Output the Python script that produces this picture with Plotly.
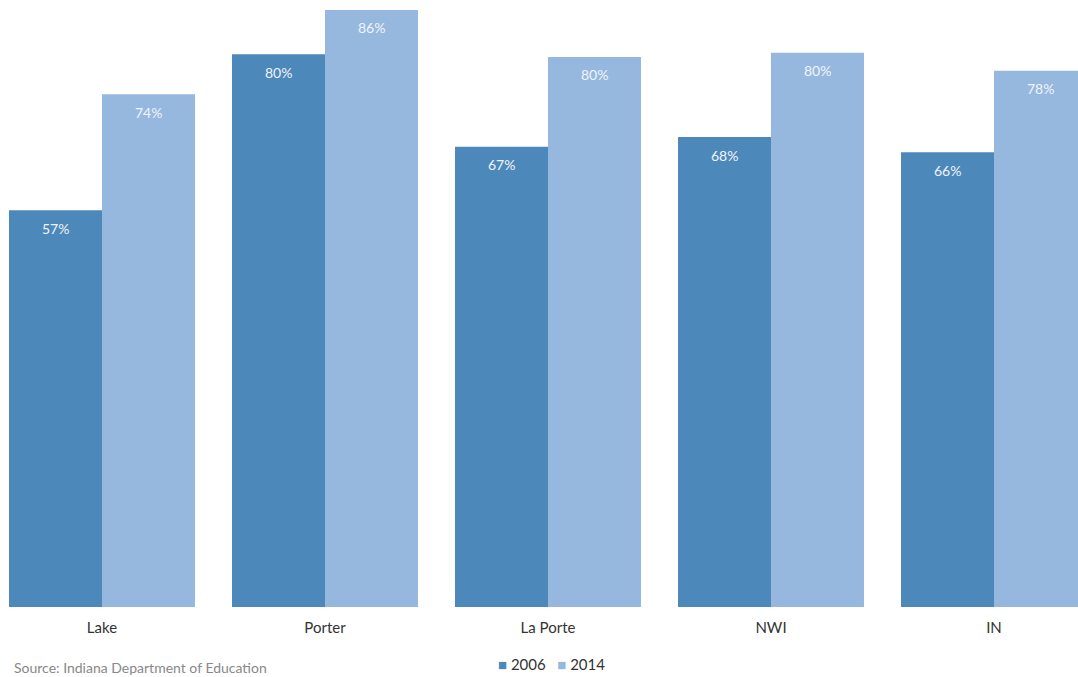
import plotly.graph_objects as go

categories = ["Lake", "Porter", "La Porte", "NWI", "IN"]
values_2006 = [57.4, 80.0, 66.6, 68.0, 65.8]
values_2014 = [74.2, 86.4, 79.6, 80.2, 77.6]
labels_2006 = ["57%", "80%", "67%", "68%", "66%"]
labels_2014 = ["74%", "86%", "80%", "80%", "78%"]
series_names = ["2006", "2014"]

c2006 = "#4D88BB"
c2014 = "#96B8DF"
font_family = "Lato, 'Open Sans', sans-serif"

W, H = 1078, 677
plot_h = 607       # plot area height in px
px_per_pct = 6.91
center0 = 102      # pixel centre of first category
step = 223         # pixels per category

fig = go.Figure()
fig.add_trace(go.Bar(name=series_names[0], x=categories, y=values_2006, marker_color=c2006,
                     marker_line_width=0, hoverinfo="skip"))
fig.add_trace(go.Bar(name=series_names[1], x=categories, y=values_2014, marker_color=c2014,
                     marker_line_width=0, hoverinfo="skip"))

annotations = []
for cat, v, t in zip(categories, values_2006, labels_2006):
    annotations.append(dict(x=cat, y=v, text=t, xref="x", yref="y", showarrow=False,
                            xshift=-46.5, yshift=-18,
                            font=dict(family=font_family, size=14, color="#F0F4FA")))
for cat, v, t in zip(categories, values_2014, labels_2014):
    annotations.append(dict(x=cat, y=v, text=t, xref="x", yref="y", showarrow=False,
                            xshift=46.5, yshift=-18,
                            font=dict(family=font_family, size=14, color="#F0F4FA")))
annotations.append(dict(x=12 / W, y=-(667 - plot_h) / plot_h, xref="paper", yref="paper",
                        yanchor="middle", xanchor="left", showarrow=False,
                        text="Source: Indiana Department of Education",
                        font=dict(family=font_family, size=14, color="#888888")))
legend_text = (f"<span style='color:{c2006}'>■</span> {series_names[0]}"
               f"&nbsp;&nbsp;&nbsp;<span style='color:{c2014}'>■</span> {series_names[1]}")
annotations.append(dict(x=551 / W, y=-(664 - plot_h) / plot_h, xref="paper", yref="paper",
                        xanchor="center", yanchor="middle", showarrow=False, text=legend_text,
                        font=dict(family=font_family, size=15, color="#333333")))

fig.update_layout(
    width=W, height=H,
    margin=dict(l=0, r=0, t=0, b=H - plot_h),
    barmode="group", bargap=0.166, bargroupgap=0,
    plot_bgcolor="white", paper_bgcolor="white",
    font=dict(family=font_family, size=15, color="#333333"),
    showlegend=False,
    annotations=annotations,
)
fig.update_xaxes(range=[-center0 / step, (W - center0) / step], showgrid=False,
                 showline=False, zeroline=False, ticks="outside", ticklen=7,
                 tickcolor="rgba(0,0,0,0)", tickfont=dict(size=15, color="#333333"))
fig.update_yaxes(range=[0, plot_h / px_per_pct], showgrid=False, showline=False, zeroline=False,
                 showticklabels=False, ticks="")

fig.write_html("out.html", config={"displayModeBar": False},
               post_script="document.body.style.margin='0';document.body.style.overflow='hidden';")
